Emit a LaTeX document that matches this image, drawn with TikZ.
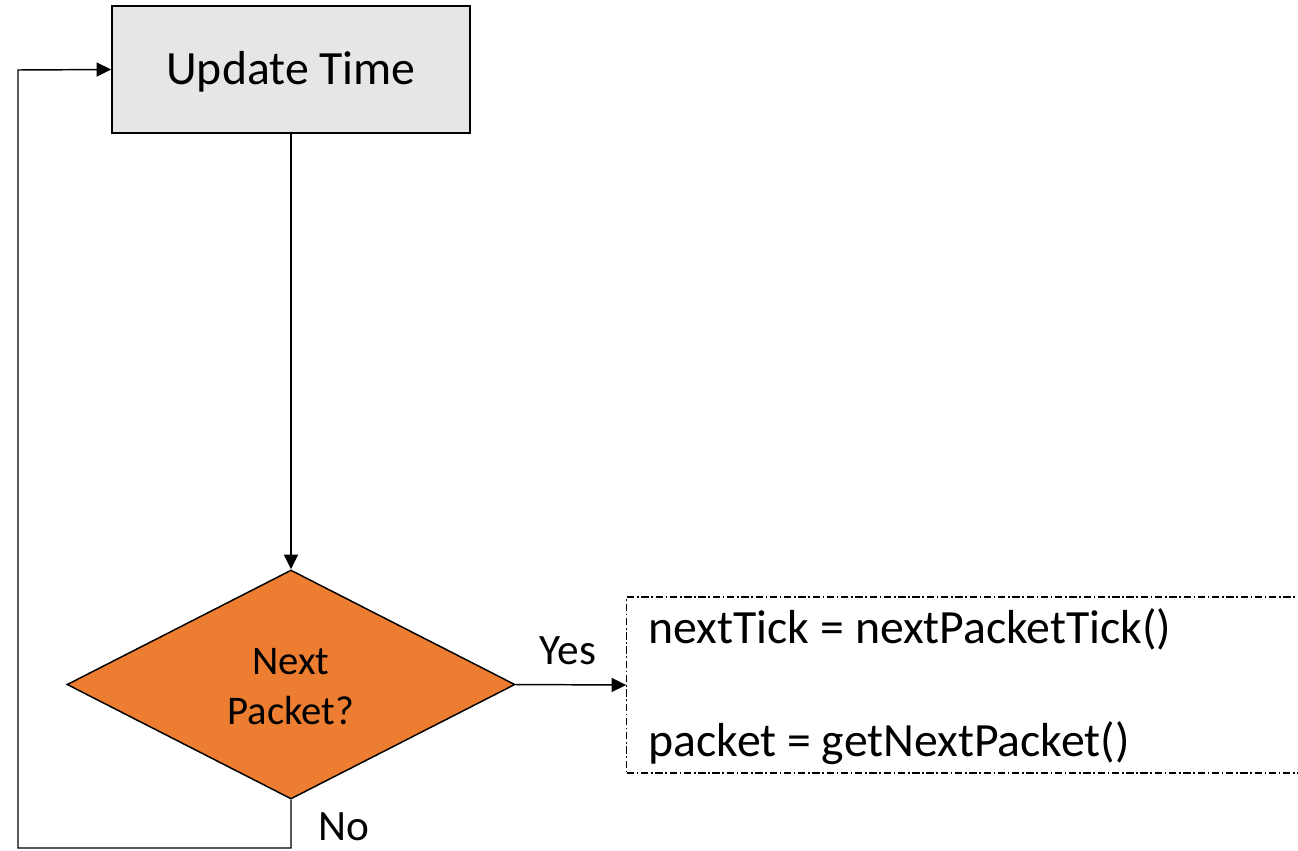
\documentclass[tikz,border=0pt]{standalone}
\usepackage{fontspec}
\setmainfont{Carlito}
\usetikzlibrary{shapes.geometric,arrows.meta}
\definecolor{boxgray}{HTML}{E6E6E6}
\definecolor{decorange}{HTML}{ED7D31}
\begin{document}
\begin{tikzpicture}[x=0.75pt,y=-0.75pt,
  line width=1.1pt,
  flow/.style={-{Triangle[length=11pt,width=10.5pt]}},
  procbox/.style={draw=black,fill=boxgray,minimum width=268.5pt,minimum height=95.25pt,inner sep=0pt},
  decision/.style={diamond,draw=black,fill=decorange,minimum width=336pt,minimum height=171.75pt,inner sep=0pt},
  notebox/.style={draw=black,line width=0.9pt,dash pattern=on 5.5pt off 2pt on 1.2pt off 2pt,minimum width=520pt,minimum height=132pt,inner sep=0pt},
  bigtext/.style={anchor=base,inner sep=0pt,font=\fontsize{35.8}{43}\selectfont},
  midtext/.style={anchor=base,inner sep=0pt,font=\fontsize{30.5}{37}\selectfont},
  code/.style={anchor=base west,inner sep=0pt,font=\fontsize{35.8}{43}\selectfont},
  tag/.style={anchor=base,inner sep=0pt,font=\fontsize{32.5}{39}\selectfont}]
\clip (0,0) rectangle (1298,850);
\fill[white] (0,0) rectangle (1298,850);

\node[procbox] (upd) at (291,69.5) {};
\node[bigtext] (updlbl) at (291,84) {Update Time};
\node[decision] (dec) at (291,684.5) {};
\node[midtext] (declbl1) at (291,674) {Next};
\node[midtext] (declbl2) at (291,724) {Packet?};
\node[notebox] (note) at (973.5,685) {};

\node[code] (l1) at (648,643) {nextTick = nextPacketTick()};
\node[code] (l2) at (648,756) {packet = getNextPacket()};

\draw[flow] (upd.south) -- (dec.north);
\draw[flow] (dec.east) -- (note.west);
\node[tag] (yes) at (568,664) {Yes};

\coordinate (c1) at (291,848);
\coordinate (c2) at (18,848);
\coordinate (c3) at (18,70);
\draw[flow] (dec.south) -- (c1) -- (c2) -- (c3) -- (upd.west);
\node[tag] (no) at (344,840) {No};
\end{tikzpicture}
\end{document}
